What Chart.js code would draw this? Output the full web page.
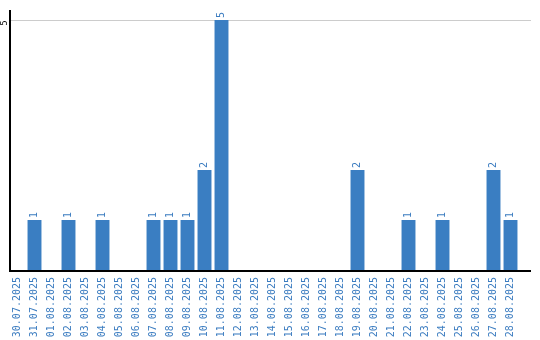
<!DOCTYPE html>
<html lang="en">
<head>
    <meta charset="UTF-8">
    <title>Daily count</title>
    <script src="https://cdn.jsdelivr.net/npm/chart.js"></script>
    <style>
        body {
            margin: 0;
            background-color: #ffffff;
        }
        .chart-container {
            width: 540px;
            height: 340px;
        }
    </style>
</head>
<body>
    <div class="chart-container">
        <canvas id="dailyChart"></canvas>
    </div>

    <script>
        const dates = [
            '30.07.2025', '31.07.2025', '01.08.2025', '02.08.2025', '03.08.2025',
            '04.08.2025', '05.08.2025', '06.08.2025', '07.08.2025', '08.08.2025',
            '09.08.2025', '10.08.2025', '11.08.2025', '12.08.2025', '13.08.2025',
            '14.08.2025', '15.08.2025', '16.08.2025', '17.08.2025', '18.08.2025',
            '19.08.2025', '20.08.2025', '21.08.2025', '22.08.2025', '23.08.2025',
            '24.08.2025', '25.08.2025', '26.08.2025', '27.08.2025', '28.08.2025'
        ];
        const counts = [0, 1, 0, 1, 0, 1, 0, 0, 1, 1, 1, 2, 5, 0, 0, 0, 0, 0, 0, 0, 2, 0, 0, 1, 0, 1, 0, 0, 2, 1];
        const yTicks = [5];
        const yMax = 5.2;

        const barBlue = '#3a7ec2';
        const textBlue = '#3b7cc0';
        const monoFont = '"DejaVu Sans Mono", monospace';

        // gridline, axis lines, rotated y tick and value labels
        const extrasPlugin = {
            id: 'extras',
            beforeDatasetsDraw(chart) {
                const { ctx, chartArea, scales: { y } } = chart;
                ctx.save();
                yTicks.forEach(v => {
                    const py = Math.round(y.getPixelForValue(v)) + 0.5;
                    ctx.strokeStyle = '#cccccc';
                    ctx.lineWidth = 1;
                    ctx.beginPath();
                    ctx.moveTo(chartArea.left, py);
                    ctx.lineTo(chartArea.right + 12, py);
                    ctx.stroke();

                    ctx.save();
                    ctx.translate(5, py);
                    ctx.rotate(-Math.PI / 2);
                    ctx.fillStyle = '#000000';
                    ctx.font = '8px "DejaVu Sans", sans-serif';
                    ctx.textAlign = 'right';
                    ctx.textBaseline = 'middle';
                    ctx.fillText(String(v), 0, 0);
                    ctx.restore();
                });
                ctx.restore();
            },
            afterDatasetsDraw(chart) {
                const { ctx, chartArea } = chart;
                ctx.save();
                ctx.strokeStyle = '#000000';
                ctx.lineWidth = 2;
                ctx.beginPath();
                ctx.moveTo(chartArea.left + 1, chartArea.top);
                ctx.lineTo(chartArea.left + 1, chartArea.bottom + 1);
                ctx.lineTo(chartArea.right + 12, chartArea.bottom + 1);
                ctx.stroke();

                ctx.fillStyle = textBlue;
                ctx.font = '10px ' + monoFont;
                ctx.textAlign = 'left';
                ctx.textBaseline = 'middle';
                chart.getDatasetMeta(0).data.forEach((bar, i) => {
                    if (!counts[i]) return;
                    ctx.save();
                    ctx.translate(bar.x, bar.y - 2);
                    ctx.rotate(-Math.PI / 2);
                    ctx.fillText(String(counts[i]), 0, 0);
                    ctx.restore();
                });
                ctx.restore();
            }
        };

        new Chart(document.getElementById('dailyChart'), {
            type: 'bar',
            data: {
                labels: dates,
                datasets: [{
                    data: counts,
                    backgroundColor: barBlue,
                    barPercentage: 0.82,
                    categoryPercentage: 1.0
                }]
            },
            options: {
                responsive: true,
                maintainAspectRatio: false,
                animation: false,
                layout: {
                    padding: { left: 9, right: 21, top: 10, bottom: 3 }
                },
                plugins: {
                    legend: { display: false },
                    tooltip: { enabled: false }
                },
                scales: {
                    x: {
                        grid: { display: false, drawTicks: false },
                        border: { display: false },
                        afterFit: (scale) => { scale.height = 67; },
                        ticks: {
                            autoSkip: false,
                            minRotation: 90,
                            maxRotation: 90,
                            padding: 7,
                            color: textBlue,
                            font: { family: monoFont, size: 10 }
                        }
                    },
                    y: {
                        display: false,
                        min: 0,
                        max: yMax
                    }
                }
            },
            plugins: [extrasPlugin]
        });
    </script>
</body>
</html>
